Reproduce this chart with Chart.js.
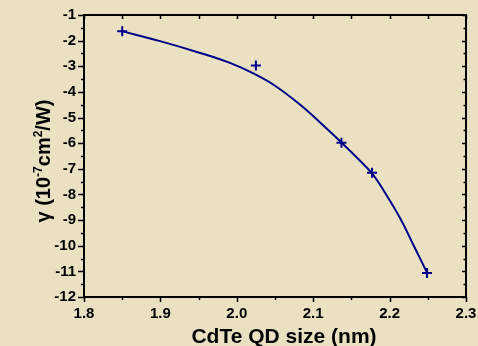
<!DOCTYPE html>
<html><head><meta charset="utf-8">
<script src="https://cdn.jsdelivr.net/npm/chart.js@4.4.1/dist/chart.umd.min.js"></script>
<style>html,body{margin:0;padding:0;background:#e9e1c1;}#wrap{width:478px;height:346px;}</style>
</head><body><div id="wrap"><canvas id="c" width="478" height="346"></canvas></div>
<script>
const sizeNm = [1.85, 2.025, 2.137, 2.177, 2.249];
const gammaVals = [-1.63, -2.97, -5.98, -7.15, -11.06];
const fitX = [1.849, 1.8995, 1.952, 1.991, 2.021, 2.050, 2.083, 2.109, 2.137, 2.157, 2.177, 2.196, 2.214, 2.231, 2.249];
const fitY = [-1.63, -2.02, -2.48, -2.87, -3.27, -3.76, -4.50, -5.19, -5.97, -6.56, -7.18, -8.03, -8.94, -9.96, -11.05];
const xTicks = [1.8, 1.9, 2.0, 2.1, 2.2, 2.3];
const yTicks = [-1, -2, -3, -4, -5, -6, -7, -8, -9, -10, -11, -12];
const xTitle = 'CdTe QD size (nm)';
const yTitleParts = [['γ (10', false], ['-7', true], ['cm', false], ['2', true], ['/W)', false]];

const FONT = '"Liberation Sans", Arial, sans-serif';
const NAVY = '#000088';

const bgPlugin = {
  id: 'bg',
  beforeDraw(chart) {
    const ctx = chart.ctx;
    ctx.save();
    ctx.fillStyle = '#e9e1c1';
    ctx.fillRect(0, 0, chart.width, chart.height);
    ctx.restore();
  }
};

const framePlugin = {
  id: 'frame',
  afterDraw(chart) {
    const ctx = chart.ctx, a = chart.chartArea;
    const xs = chart.scales.x, ys = chart.scales.y;
    ctx.save();
    ctx.strokeStyle = '#000';
    ctx.lineWidth = 2;
    ctx.strokeRect(a.left, a.top, a.right - a.left, a.bottom - a.top);
    ctx.lineWidth = 1.5;
    ctx.beginPath();
    for (let i = 0; i <= 10; i++) {
      const v = 1.8 + i * 0.05;
      const px = Math.round(xs.getPixelForValue(v)) + 0.5;
      const major = i % 2 === 0;
      ctx.moveTo(px, a.bottom); ctx.lineTo(px, a.bottom + (major ? 5 : 3));
      ctx.moveTo(px, a.top); ctx.lineTo(px, a.top + 4);
    }
    for (let i = 0; i <= 22; i++) {
      const v = -1 - i * 0.5;
      const py = Math.round(ys.getPixelForValue(v)) + 0.5;
      const major = i % 2 === 0;
      ctx.moveTo(a.left, py); ctx.lineTo(a.left - (major ? 6 : 3), py);
      ctx.moveTo(a.right, py); ctx.lineTo(a.right - (major ? 4 : 2.5), py);
    }
    ctx.stroke();
    ctx.fillStyle = '#000';
    ctx.font = 'bold 21px ' + FONT;
    ctx.textAlign = 'center';
    ctx.textBaseline = 'middle';
    ctx.fillText(xTitle, 284, 337);
    const big = 'bold 20px ' + FONT, small = 'bold 12px ' + FONT;
    let total = 0;
    const widths = yTitleParts.map(([t, sup]) => { ctx.font = sup ? small : big; const w = ctx.measureText(t).width; total += w; return w; });
    ctx.translate(43, 161);
    ctx.rotate(-Math.PI / 2);
    ctx.textAlign = 'left';
    ctx.textBaseline = 'alphabetic';
    let x = -total / 2;
    yTitleParts.forEach(([t, sup], i) => {
      ctx.font = sup ? small : big;
      ctx.fillText(t, x, sup ? -1 : 7);
      x += widths[i];
    });
    ctx.restore();
  }
};

new Chart(document.getElementById('c'), {
  type: 'scatter',
  data: {
    datasets: [
      {
        label: 'fit',
        data: fitX.map((x, i) => ({x, y: fitY[i]})),
        showLine: true,
        borderColor: NAVY,
        borderWidth: 2,
        pointRadius: 0,
        tension: 0.4,
        fill: false
      },
      {
        label: 'data',
        data: sizeNm.map((x, i) => ({x, y: gammaVals[i]})),
        showLine: false,
        pointStyle: 'cross',
        pointRadius: 5,
        borderColor: NAVY,
        backgroundColor: NAVY,
        borderWidth: 2
      }
    ]
  },
  options: {
    responsive: false,
    animation: false,
    devicePixelRatio: 1,
    layout: { padding: { top: 15, right: 12, left: 0, bottom: 0 } },
    plugins: { legend: { display: false }, tooltip: { enabled: false } },
    scales: {
      x: {
        type: 'linear', min: 1.8, max: 2.3,
        afterBuildTicks: s => { s.ticks = xTicks.map(v => ({value: v})); },
        afterFit: s => { s.height = 49; },
        grid: { display: false },
        border: { display: false },
        ticks: {
          color: '#000', padding: 0, maxRotation: 0,
          font: { family: FONT, size: 15, weight: 700 },
          callback: v => v.toFixed(1)
        }
      },
      y: {
        type: 'linear', min: -12, max: -1,
        afterBuildTicks: s => { s.ticks = yTicks.map(v => ({value: v})); },
        afterFit: s => { s.width = 84; },
        grid: { display: false },
        border: { display: false },
        ticks: {
          color: '#000', padding: 0,
          font: { family: FONT, size: 15, weight: 700 },
          callback: v => String(v)
        }
      }
    }
  },
  plugins: [bgPlugin, framePlugin]
});
</script></body></html>
